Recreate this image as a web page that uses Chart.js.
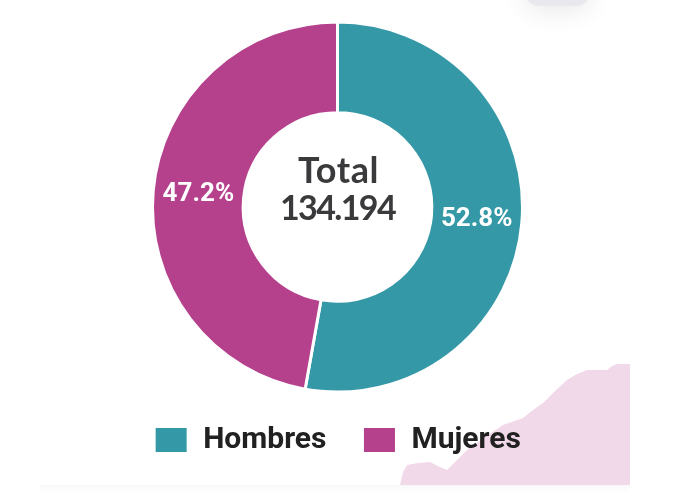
<!DOCTYPE html>
<html>
<head>
<meta charset="utf-8">
<style>
  html,body{margin:0;padding:0;background:#fff;overflow:hidden}
  #wrap{position:relative;width:675px;height:493px}
  /* decoration behind the chart */
  #wash{position:absolute;left:0;top:0;width:675px;height:493px;background:#f2d9ea;
    clip-path:polygon(400px 485px,403px 472px,407px 465px,418px 463px,430px 462px,440px 467px,447px 470px,456px 461px,467px 450px,485px 437px,503px 425px,523px 418px,533px 410px,543px 403px,555px 391px,567px 380px,577px 374px,587px 370px,607px 370px,612px 366px,617px 364px,630px 364px,630px 485px)}
  #pill{position:absolute;left:525px;top:-30px;width:65px;height:36px;background:#e9e8ee;border-radius:14px;box-shadow:0 5px 26px rgba(0,0,0,.09)}
  #foot{position:absolute;left:40px;top:485px;width:590px;height:8px;background:linear-gradient(#f8f8f8,#fff)}
  canvas{position:absolute;left:0;top:0}
</style>
</head>
<body>
<div id="wrap">
  <div id="pill"></div>
  <div id="foot"></div>
  <div id="wash"></div>
  <canvas id="sexChart" width="675" height="493"></canvas>
</div>
<script src="https://cdn.jsdelivr.net/npm/chart.js@4"></script>
<script>
const categories = ['Hombres','Mujeres'];
const shares     = [52.8,47.2];
const colors     = ['#3498a6','#b5408c'];
const totalLines = ['Total','134.194'];

// plugin: total in the hole, percentages on the slices
const doughnutText = {
  id:'doughnutText',
  afterDraw(chart){
    const {ctx} = chart;
    const arcs = chart.getDatasetMeta(0).data;
    const cx = arcs[0].x, cy = arcs[0].y;
    ctx.save();
    ctx.textAlign='center';
    ctx.textBaseline='middle';
    ctx.fillStyle='#3a3a3c';
    ctx.font='700 36px Lato, sans-serif';
    ctx.letterSpacing='0.6px';
    ctx.fillText(totalLines[0], cx+1, cy-36);
    ctx.font='700 34px Lato, sans-serif';
    ctx.letterSpacing='-1.6px';
    ctx.fillText(totalLines[1], cx, cy+2);
    ctx.letterSpacing='0px';
    ctx.fillStyle='#fff';
    ctx.font='700 26px Roboto, sans-serif';
    arcs.forEach((arc,i)=>{
      const p = arc.getCenterPoint();
      ctx.fillText(shares[i].toFixed(1)+'%', p.x, p.y);
    });
    ctx.restore();
  }
};

new Chart(document.getElementById('sexChart').getContext('2d'), {
  type:'doughnut',
  data:{
    labels:categories,
    datasets:[{
      data:shares,
      backgroundColor:colors,
      borderColor:'#fff',
      borderWidth:3
    }]
  },
  options:{
    responsive:false,
    animation:false,
    cutout:'51%',
    radius:185,
    layout:{padding:{top:25,bottom:28}},
    plugins:{
      tooltip:{enabled:false},
      legend:{
        position:'bottom',
        labels:{
          boxWidth:34,
          boxHeight:27,
          padding:36,
          color:'#212121',
          font:{family:'Roboto, sans-serif',size:30,weight:'700'}
        }
      }
    }
  },
  plugins:[doughnutText]
});
</script>
</body>
</html>
